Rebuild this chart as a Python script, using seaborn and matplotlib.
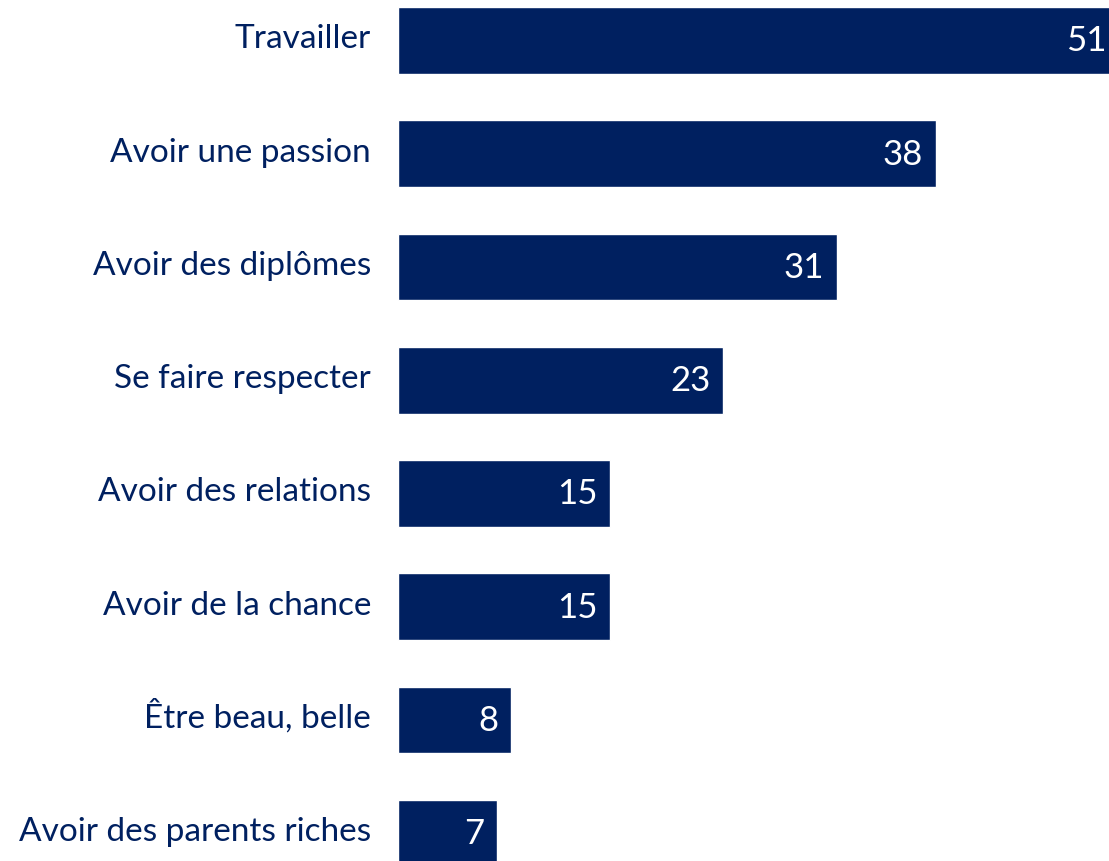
import matplotlib
matplotlib.use("Agg")
import matplotlib.pyplot as plt
import seaborn as sns

categories = [
    "Travailler",
    "Avoir une passion",
    "Avoir des diplômes",
    "Se faire respecter",
    "Avoir des relations",
    "Avoir de la chance",
    "Être beau, belle",
    "Avoir des parents riches",
]
values = [51, 38, 31, 23, 15, 15, 8, 7]

NAVY = "#002060"

sns.set_style("white")
plt.rcParams["font.family"] = ["Lato", "DejaVu Sans"]

fig = plt.figure(figsize=(11.09, 8.62), dpi=100)
ax = fig.add_axes([398 / 1109, 0, 711 / 1109, 1])

sns.barplot(x=values, y=categories, orient="h", color=NAVY, width=0.59,
            saturation=1, ax=ax)

ax.set_xlim(0, 711 / 14.15)
ax.set_ylim(7.245, -0.366)
ax.set_xticks([])
ax.set_yticks([])
ax.set_xlabel("")
ax.set_ylabel("")
sns.despine(ax=ax, left=True, bottom=True)

for i, (cat, val) in enumerate(zip(categories, values)):
    # category label left of the bar, sits a bit high like the original
    ax.annotate(cat, xy=(0, i), xytext=(-27, -7), textcoords="offset pixels",
                ha="right", va="baseline", fontsize=24,
                color=NAVY, annotation_clip=False)
    # value inside the bar, near its end
    ax.annotate(str(val), xy=(val, i), xytext=(-13, 0), textcoords="offset pixels",
                ha="right", va="center", fontsize=25, color="white",
                annotation_clip=False)

fig.savefig("out.png", dpi=100)
